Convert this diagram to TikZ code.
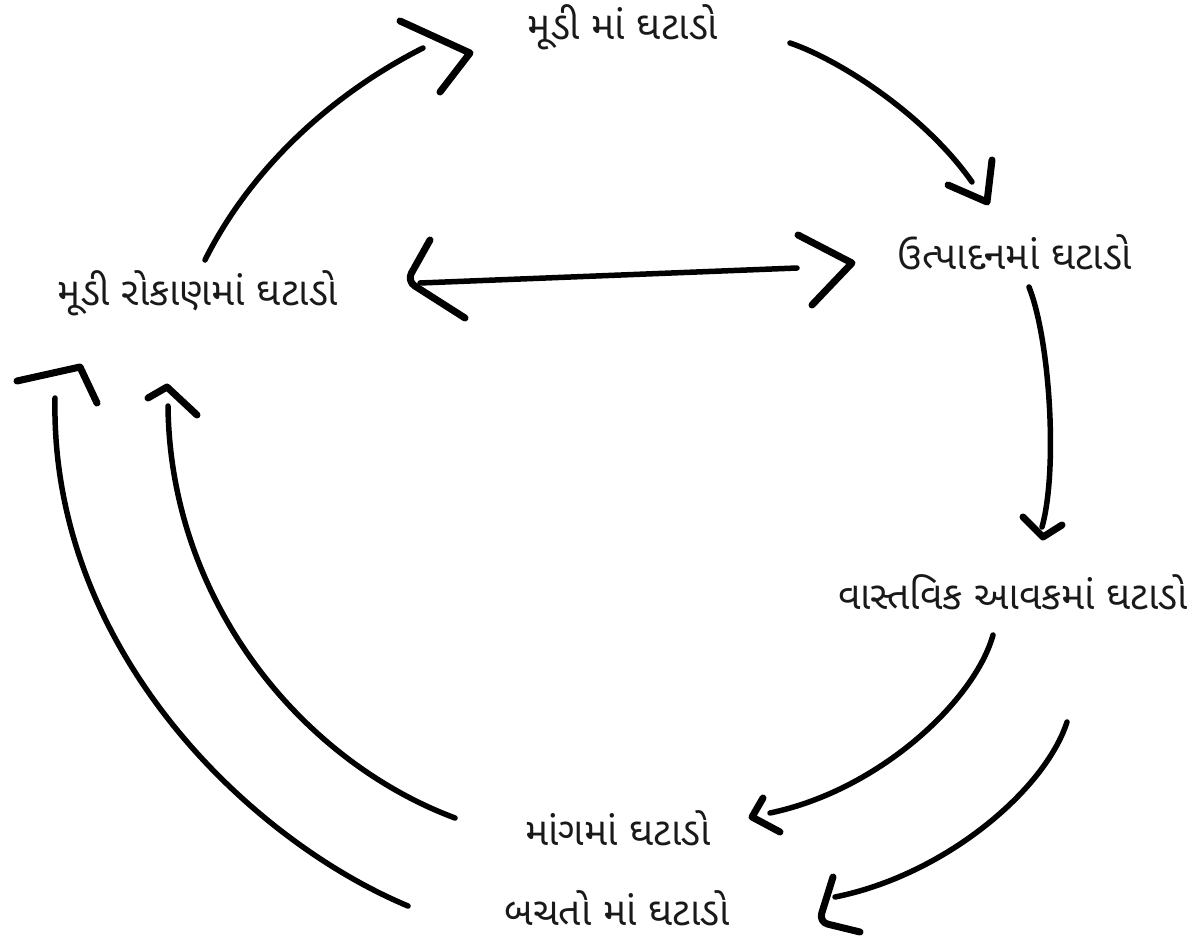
\documentclass[tikz,border=0pt]{standalone}
\usepackage{fontspec}
\newfontfamily\guj[Script=Gujarati]{Noto Sans Gujarati UI}
\begin{document}
\begin{tikzpicture}[x=1pt,y=-1pt,
  lbl/.style={font=\guj\fontsize{39}{46}\selectfont, inner sep=0pt, anchor=center, text=black!90},
  curve/.style={line width=5.5pt, line cap=round},
  head/.style={line width=7pt, line cap=round, line join=round}]
\useasboundingbox (0,0) rectangle (1203,939);
% nodes
\node[lbl] (capital) at (623,27) {મૂડી માં ઘટાડો};
\node[lbl] (invest) at (198,293) {મૂડી રોકાણમાં ઘટાડો};
\node[lbl] (prod) at (1015,252) {ઉત્પાદનમાં ઘટાડો};
\node[lbl] (income) at (1013,592) {વાસ્તવિક આવકમાં ઘટાડો};
\node[lbl] (demand) at (618,828) {માંગમાં ઘટાડો};
\node[lbl] (saving) at (617,908) {બચતો માં ઘટાડો};
% connector end points
\coordinate (a1) at (205,260); \coordinate (a2) at (423,48);
\coordinate (b1) at (790,43);  \coordinate (b2) at (972,182);
\coordinate (c1) at (420,283); \coordinate (c2) at (797,268);
\coordinate (d1) at (1029,287); \coordinate (d2) at (1042,527);
\coordinate (e1) at (993,635); \coordinate (e2) at (770,813);
\coordinate (f1) at (1067,722); \coordinate (f2) at (835,897);
\coordinate (g1) at (455,818); \coordinate (g2) at (168,406);
\coordinate (h1) at (408,906); \coordinate (h2) at (55,398);
% connectors
\draw[curve] (a1) .. controls (250,170) and (330,95) .. (a2);
\draw[curve] (b1) .. controls (840,60) and (925,115) .. (b2);
\draw[curve] (c1) -- (c2);
\draw[curve] (d1) .. controls (1050,340) and (1058,470) .. (d2);
\draw[curve] (e1) .. controls (975,700) and (880,790) .. (e2);
\draw[curve] (f1) .. controls (1045,790) and (945,875) .. (f2);
\draw[curve] (g1) .. controls (300,760) and (170,600) .. (g2);
\draw[curve] (h1) .. controls (250,840) and (50,650) .. (h2);
% arrow heads
\draw[head] (400,21) -- (470,53) -- (440,92);
\draw[head] (948,185) -- (987,202) -- (992,160);
\draw[head, rounded corners=9pt] (430,240) -- (407,281) -- (465,318);
\draw[head] (798,235) -- (852,263) -- (812,305);
\draw[head] (1023,517) -- (1043,537) -- (1062,525);
\draw[head] (763,798) -- (752,817) -- (780,832);
\draw[head, rounded corners=9pt] (833,877) -- (819,922) -- (860,932);
\draw[head] (148,398) -- (167,387) -- (197,415);
\draw[head] (17,381) -- (80,367) -- (97,403);
\end{tikzpicture}
\end{document}
